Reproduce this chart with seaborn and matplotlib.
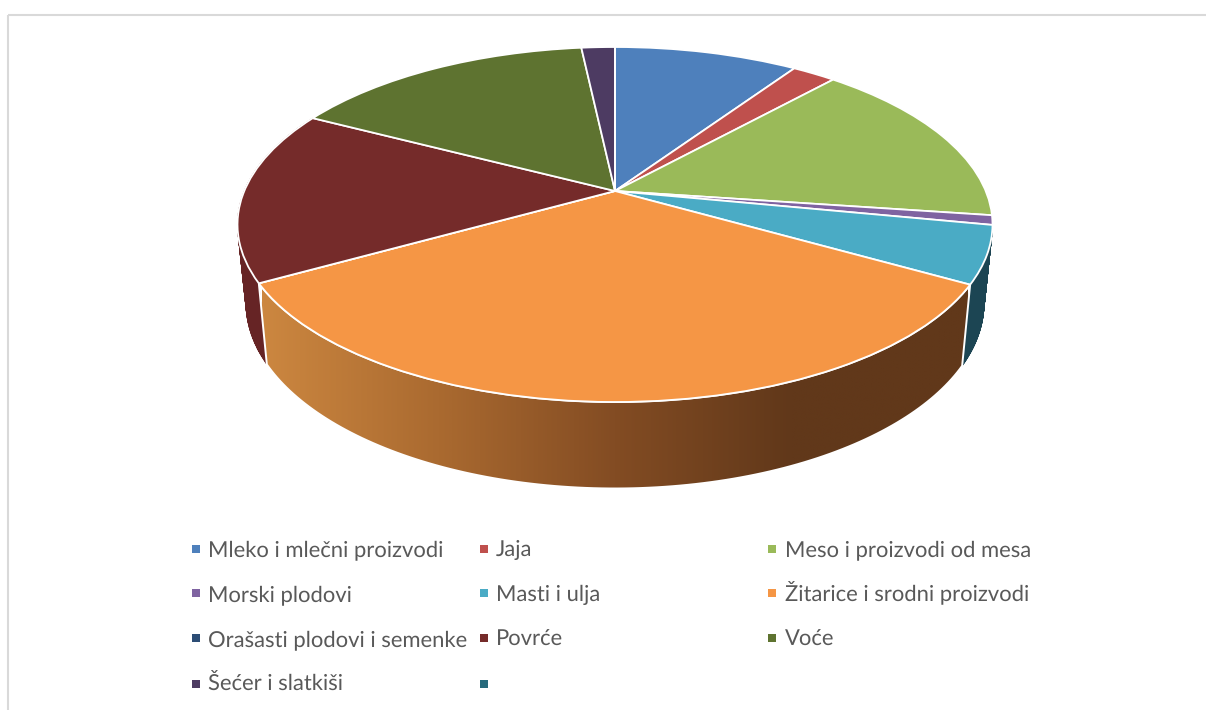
import numpy as np
import matplotlib
matplotlib.use("Agg")
import matplotlib.pyplot as plt
from matplotlib.collections import PolyCollection
from matplotlib.colors import LinearSegmentedColormap
from matplotlib.patches import Polygon
from matplotlib.transforms import Transform
import seaborn as sns

categories = ["Mleko i mlečni proizvodi", "Jaja", "Meso i proizvodi od mesa",
              "Morski plodovi", "Masti i ulja", "Žitarice i srodni proizvodi",
              "Orašasti plodovi i semenke", "Povrće", "Voće",
              "Šećer i slatkiši", ""]
shares = [9.45, 2.25, 15.5, 0.86, 5.2, 33.6, 0.0, 15.8, 15.62, 1.72, 0.0]
top_colors = ["#4e80bc", "#bf504d", "#9aba59", "#7f63a1", "#4aabc5", "#f59645",
              "#2c4d75", "#752b2a", "#5e7330", "#4d3b62", "#276a7c"]
side_colors = {4: "#1c4553", 7: "#662425"}
gradient_stops = ["#cc8740", "#aa6a30", "#834c23", "#61381a", "#61381a"]

sns.set_theme(style="white")
plt.rcParams["font.family"] = ["Lato", "DejaVu Sans"]
plt.rcParams["text.hinting"] = "none"
plt.rcParams["text.hinting_factor"] = 1


class TiltedDisk(Transform):
    """Maps the unit disk to a perspective-tilted ellipse."""
    input_dims = output_dims = 2
    is_separable = False
    has_inverse = False

    def __init__(self, cx, cy, rx, ry, tilt):
        super().__init__()
        self.p = (cx, cy, rx, ry, tilt)

    def transform_non_affine(self, xy):
        cx, cy, rx, ry, c = self.p
        xy = np.asarray(xy, dtype=float)
        d = 1 + c * xy[:, 1]
        u = xy[:, 0] * np.sqrt(1 - c * c) / d
        v = (xy[:, 1] + c) / d
        return np.column_stack([cx + rx * u, cy - ry * v])


TILT = 0.1887
top = TiltedDisk(615, 224.5, 377.5, 177.5, TILT)
bottom = TiltedDisk(615, 303, 369, 185.5, TILT)

fig = plt.figure(figsize=(12.06, 7.10), dpi=100)
ax = fig.add_axes([0, 0, 1, 1])

wedges, _ = ax.pie(shares, colors=top_colors, startangle=90, counterclock=False,
                   wedgeprops=dict(edgecolor="white", linewidth=1.3, zorder=5))
ax.set_aspect("auto")
ax.set_xlim(0, 1206)
ax.set_ylim(710, 0)
for w in wedges:
    w.set_transform(top + ax.transData)
    w.set_clip_on(False)

edges = np.cumsum([0] + shares) / sum(shares) * 2 * np.pi


def side_arcs(i):
    a = np.linspace(edges[i], edges[i + 1], 120)
    unit = np.column_stack([np.sin(a), np.cos(a)])
    return top.transform_non_affine(unit), bottom.transform_non_affine(unit)


def side_polygon(i):
    t, b = side_arcs(i)
    return np.vstack([t, b[::-1]])


def side_strips(i):
    t, b = side_arcs(i)
    return [np.array([t[j], t[j + 1], b[j + 1], b[j]]) for j in range(len(t) - 1)]


for i, col in side_colors.items():
    ax.add_collection(PolyCollection(side_strips(i), facecolors=col, edgecolors=col,
                                     linewidths=0.6, zorder=2))

orange = Polygon(side_polygon(5), closed=True, facecolor="none",
                 edgecolor="none", zorder=3)
ax.add_patch(orange)
cmap = LinearSegmentedColormap.from_list("side", gradient_stops)
img = ax.imshow(np.linspace(0, 1, 512)[None, :], cmap=cmap, aspect="auto",
                extent=(262, 968, 500, 270), zorder=3, interpolation="bilinear")
img.set_clip_path(orange)
ax.set_xlim(0, 1206)
ax.set_ylim(710, 0)
ax.add_patch(Polygon(side_polygon(5), closed=True, facecolor="none",
                     edgecolor="white", linewidth=1.4, zorder=4))

col_marker = [196, 484, 772]
col_text = [208, 496, 785]
row_marker = [549, 593, 638, 684]
row_base = [556, 601, 646, 691]
for k, (label, color) in enumerate(zip(categories, top_colors)):
    r, c = divmod(k, 3)
    ax.scatter(col_marker[c], row_marker[r], marker="s", s=33, color=color,
               linewidths=0, zorder=6)
    ax.text(col_text[c], row_base[r], label, fontsize=15.95, color="#595959",
            va="baseline", ha="left")

ax.plot([7.5, 7.5], [710, 14.5], color="#d9d9d9", lw=1.5, solid_capstyle="butt")
ax.plot([7.5, 1206], [14.5, 14.5], color="#d9d9d9", lw=1.5, solid_capstyle="butt")

fig.savefig("out.png", dpi=100)
